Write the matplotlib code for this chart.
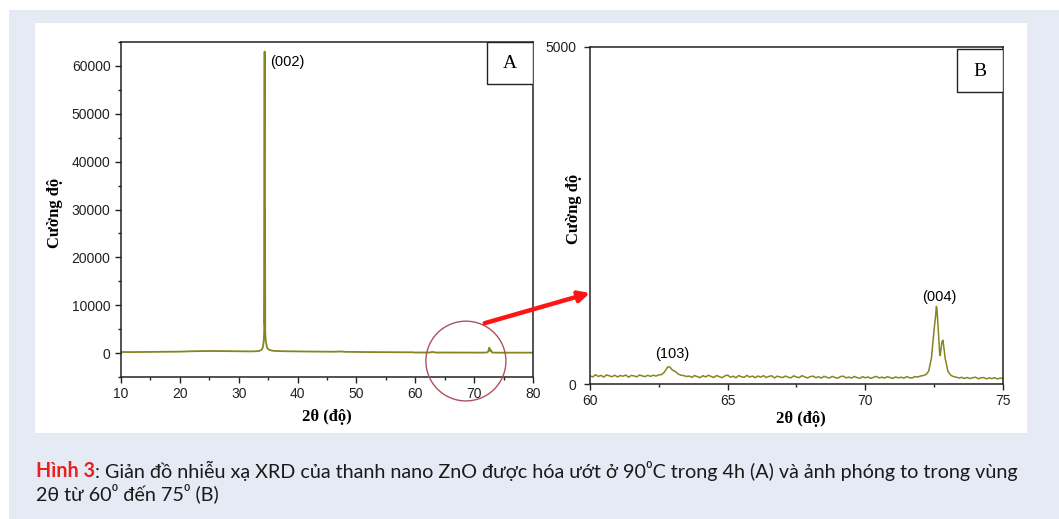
import matplotlib
matplotlib.use("Agg")
import matplotlib.pyplot as plt
import numpy as np
from matplotlib.patches import Rectangle, Ellipse, ConnectionPatch

# ---- data ----
# full scan, coarse points outside the zoomed window
scan_theta_lo = [10, 12, 14, 16, 18, 20, 22, 24, 26, 28, 30, 32, 33, 33.5, 33.9,
                 34.1, 34.25, 34.33, 34.37, 34.40, 34.43, 34.47, 34.51, 34.6, 34.8,
                 35.0, 35.5, 36, 38, 40, 42, 44, 46, 47.5, 48, 50, 52, 55, 58, 59.5]
scan_counts_lo = [220, 210, 230, 240, 260, 300, 380, 420, 430, 400, 360, 350, 380, 450, 700,
                  1200, 2500, 4500, 47000, 63000, 6000, 30000, 4200, 2500, 1200,
                  800, 550, 450, 380, 340, 320, 300, 280, 330, 260, 230, 210, 190, 170, 160]
scan_theta_hi = [75.5, 76, 77, 78, 79, 80]
scan_counts_hi = [95, 90, 92, 88, 90, 85]

# zoomed window 60-75 deg, every 0.1 deg
zoom_theta = np.round(np.arange(600, 751) / 10.0, 1)
zoom_counts = (
    # 60.0 - 62.5
    [120, 105, 138, 112, 128, 102, 135, 122, 108, 131, 104, 126, 115, 133, 101, 127,
     120, 106, 134, 119, 110, 129, 113, 131, 118, 136]
    # 62.6 - 63.5  (103)
    + [140, 175, 240, 250, 205, 185, 150, 130, 125, 112]
    # 63.6 - 67.0
    + [118, 98, 126, 109, 95, 124, 104, 130, 112, 97, 127, 108, 94, 121, 132, 100,
       116, 92, 125, 107, 99, 128, 103, 118, 93, 119, 101, 124, 96, 113, 122, 90,
       117, 104, 96]
    # 67.1 - 72.2
    + [118, 100, 92, 121, 103, 95, 124, 106, 89, 110, 117, 93, 108, 87, 115, 98,
       90, 113, 96, 86, 111, 116, 91, 103, 88, 112, 95, 85, 109, 92, 104, 84,
       100, 112, 90, 102, 87, 108, 95, 83, 105, 91, 101, 86, 109, 94, 90, 110,
       103, 118, 125, 140]
    # 72.3 - 73.2  (004)
    + [190, 380, 820, 1120, 450, 640, 380, 190, 130, 110]
    # 73.3 - 75.0
    + [102, 88, 99, 82, 97, 80, 93, 101, 78, 92, 96, 76, 90, 81, 94, 75, 89, 79]
)
# extra points on the peak tops
peak_theta = [62.85, 72.55, 72.58, 72.65, 72.72, 72.78, 72.82, 72.85]
peak_counts = [257, 1000, 1150, 800, 420, 620, 650, 550]

peak_labels_a = ["(002)"]
peak_labels_b = ["(103)", "(004)"]

x_label = "2θ (độ)"
y_label = "Cường độ"
caption_head = "Hình 3"
caption_line1 = (": Giản đồ nhiễu xạ XRD của thanh nano ZnO được hóa ướt ở 90⁰C "
                 "trong 4h (A) và ảnh phóng to trong vùng")
caption_line2 = "2θ từ 60⁰ đến 75⁰ (B)"

# merge zoom window + peak tops
zx = np.concatenate([zoom_theta, peak_theta])
zy = np.concatenate([np.array(zoom_counts, float), peak_counts])
order = np.argsort(zx)
zx, zy = zx[order], zy[order]

full_x = np.concatenate([scan_theta_lo, zx, scan_theta_hi])
full_y = np.concatenate([scan_counts_lo, zy, scan_counts_hi])

line_col = "#85861f"
serif = ["Liberation Serif", "DejaVu Serif"]
sans = ["Liberation Sans", "DejaVu Sans"]

fig = plt.figure(figsize=(10.59, 5.19), dpi=100, facecolor="white")
fig.patches.append(Rectangle((9 / 1059, 0), 1, 1 - 10 / 519, transform=fig.transFigure,
                             facecolor="#e6eaf5", edgecolor="none", zorder=-2))
fig.patches.append(Rectangle((35 / 1059, 1 - 433 / 519), (1027 - 35) / 1059, (433 - 23) / 519,
                             transform=fig.transFigure, facecolor="white",
                             edgecolor="none", zorder=-1))

axA = fig.add_axes([121 / 1059, 1 - 377 / 519, 412 / 1059, 335 / 519])
axB = fig.add_axes([590 / 1059, 1 - 384 / 519, 413 / 1059, 337 / 519])

# ---- panel A ----
axA.plot(full_x, full_y, color=line_col, lw=1.3)
axA.set_xlim(10, 80)
axA.set_ylim(-5000, 65000)
axA.set_xticks(np.arange(10, 81, 10))
axA.set_xticks(np.arange(15, 80, 10), minor=True)
axA.set_yticks(np.arange(0, 60001, 10000))
axA.set_yticks(np.arange(-5000, 65001, 10000), minor=True)
axA.text(35.3, 60800, peak_labels_a[0], fontsize=10.5, family=sans, va="center")

# ---- panel B ----
axB.plot(zx, zy, color=line_col, lw=1.1)
axB.set_xlim(60, 75)
axB.set_ylim(0, 5000)
axB.set_xticks([60, 65, 70, 75])
axB.set_xticks([62.5, 67.5, 72.5], minor=True)
axB.set_yticks([0, 5000])
axB.tick_params(axis="y", length=0, pad=6)
axB.text(62.98, 445, peak_labels_b[0], fontsize=10.5, family=sans, ha="center", va="center")
axB.text(72.67, 1290, peak_labels_b[1], fontsize=10.5, family=sans, ha="center", va="center")

for ax in (axA, axB):
    for s in ax.spines.values():
        s.set_color("#222222")
        s.set_linewidth(1.1)
    ax.tick_params(which="major", direction="out", length=4, width=1, color="#222222",
                   labelsize=10)
    ax.tick_params(which="minor", direction="out", length=2.5, width=1, color="#222222")
    for lab in ax.get_xticklabels() + ax.get_yticklabels():
        lab.set_family(sans)
        lab.set_color("#222222")
    ax.set_xlabel(x_label, family=serif, fontweight="bold", fontsize=12)
    ax.set_ylabel(y_label, family=serif, fontweight="bold", fontsize=12)

axA.xaxis.set_label_coords(0.5, -0.095)
axA.yaxis.set_label_coords(-0.141, 0.49)
axB.xaxis.set_label_coords(0.51, -0.08)
axB.yaxis.set_label_coords(-0.02, 0.52)

# A / B boxes
for ax, x0, y0, lab in ((axA, 0.888, 0.875, "A"), (axB, 0.889, 0.866, "B")):
    ax.add_patch(Rectangle((x0, y0), 1 - x0, 0.128 if lab == "B" else 1 - y0,
                           transform=ax.transAxes, facecolor="white",
                           edgecolor="#222222", lw=1, zorder=5))
    ax.text(x0 + (1 - x0) / 2, y0 + 0.062, lab, transform=ax.transAxes, family=serif,
            fontsize=14, ha="center", va="center", zorder=6)

# circle + arrow
axA.add_patch(Ellipse((68.6, -1667), 13.6, 16667, facecolor="none", edgecolor="#b05060",
                      lw=1, clip_on=False, zorder=4))
con = ConnectionPatch(xyA=(71.8, 6250), coordsA=axA.transData,
                      xyB=(60, 1350), coordsB=axB.transData,
                      arrowstyle="-|>", mutation_scale=16, lw=3.2, color="#ff1414",
                      shrinkA=0, shrinkB=0, zorder=10)
fig.add_artist(con)

# caption
cap_font = ["Lato", "DejaVu Sans"]
t1 = fig.text(36 / 1059, 1 - 481 / 519, caption_head, color="#e8201e", fontweight="bold",
              fontsize=14.2, family=cap_font, va="bottom", ha="left")
axA.annotate(caption_line1, xy=(1, 0), xycoords=t1, va="bottom", ha="left",
             fontsize=14.2, family=cap_font, color="#1a1a1a", annotation_clip=False)
fig.text(36 / 1059, 1 - 503 / 519, caption_line2, fontsize=14.2, family=cap_font,
         color="#1a1a1a", va="bottom", ha="left")

fig.savefig("out.png", dpi=100, facecolor=fig.get_facecolor())
